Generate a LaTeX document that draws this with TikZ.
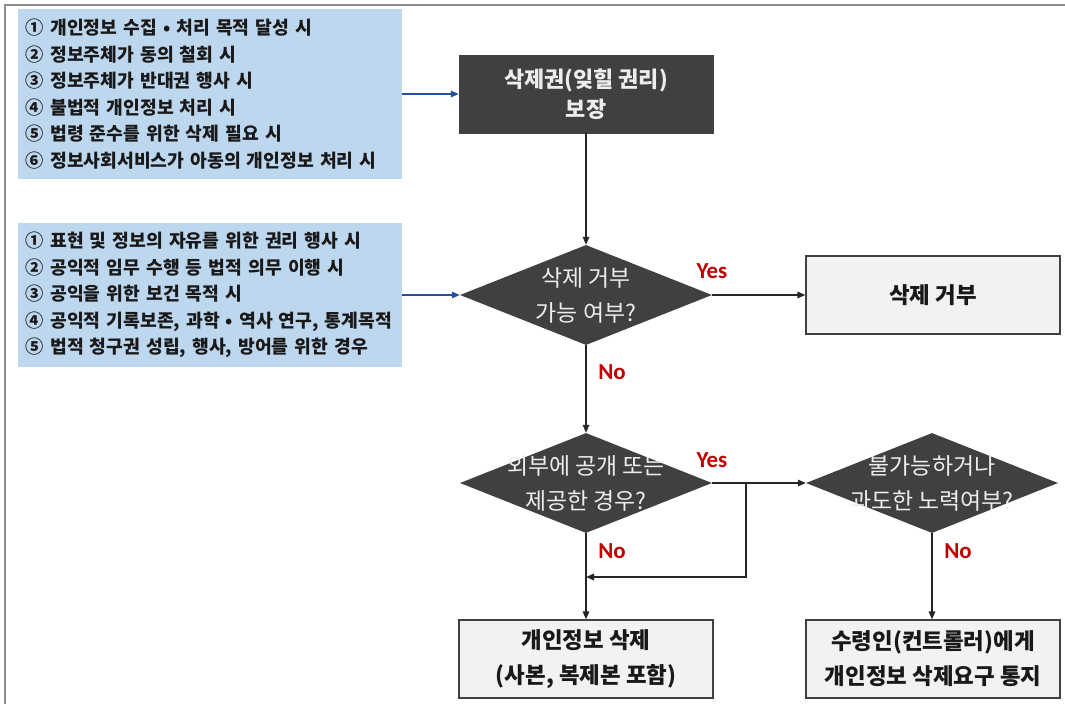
\documentclass[tikz,border=0pt]{standalone}
\usepackage{fontspec}
\setmainfont{Noto Sans CJK KR}
\newfontfamily\ynfont{Carlito}
\usetikzlibrary{shapes.geometric,arrows.meta,positioning}
\definecolor{listblue}{HTML}{BDD7EE}
\definecolor{arrowblue}{HTML}{2350A0}
\definecolor{darkfill}{HTML}{404040}
\definecolor{lightfill}{HTML}{F2F2F2}
\definecolor{ynred}{HTML}{C00000}
\definecolor{framegray}{HTML}{8C8C8C}
\tikzset{
  listbox/.style={rectangle, fill=listblue, minimum width=384bp, text width=368bp, inner sep=0pt, align=left,
     font=\fontsize{18.3}{26.6}\selectfont\bfseries, text=black!90},
  darkbox/.style={rectangle, fill=darkfill, draw=darkfill, minimum width=254bp, minimum height=78bp, align=center,
     font=\fontsize{22}{30}\selectfont\bfseries, text=white!93!black},
  lightbox/.style={rectangle, fill=lightfill, draw=darkfill, line width=1.2bp, minimum width=254bp, minimum height=78bp, align=center,
     font=\fontsize{22.5}{35}\selectfont\bfseries, text=black!90},
  decision/.style={diamond, fill=darkfill, inner sep=0pt, minimum width=252bp, minimum height=100bp},
  dtext/.style={align=center, font=\fontsize{23}{35}\selectfont, text=white!93!black, inner sep=0pt},
  conn/.style={line width=1.5bp, black!85, -{Triangle[length=8bp,width=6.5bp]}},
  bconn/.style={line width=1.5bp, arrowblue, -{Triangle[length=8bp,width=6.5bp]}},
  yn/.style={font=\ynfont\fontsize{23}{24}\selectfont\bfseries, text=ynred, inner sep=0pt}
}
\begin{document}
\begin{tikzpicture}[x=1bp,y=-1bp]
\useasboundingbox (0,0) rectangle (1065,704);
\fill[white] (0,0) rectangle (1065,704);
% frame
\draw[framegray, line width=1.6bp] (5,704) -- (5,5) -- (1065,5);

% list boxes
\node[listbox, minimum height=170bp] (l1) at (210,94) {%
① 개인정보 수집 • 처리 목적 달성 시\\
② 정보주체가 동의 철회 시\\
③ 정보주체가 반대권 행사 시\\
④ 불법적 개인정보 처리 시\\
⑤ 법령 준수를 위한 삭제 필요 시\\
⑥ 정보사회서비스가 아동의 개인정보 처리 시};
\node[listbox, minimum height=143bp] (l2) at (210,295) {%
① 표현 및 정보의 자유를 위한 권리 행사 시\\
② 공익적 임무 수행 등 법적 의무 이행 시\\
③ 공익을 위한 보건 목적 시\\
④ 공익적 기록보존, 과학 • 역사 연구, 통계목적\\
⑤ 법적 청구권 성립, 행사, 방어를 위한 경우};

% main flow
\node[darkbox] (b1) at (586,94) {삭제권(잊힐 권리)\\보장};
\node[decision, label={[dtext]center:{삭제 거부\\가능 여부?}}] (d1) at (586,295) {};
\node[lightbox] (r1) at (933,295) {삭제 거부};
\node[decision, label={[dtext]center:{외부에 공개 또는\\제공한 경우?}}] (d2) at (586,483) {};
\node[decision, label={[dtext]center:{불가능하거나\\과도한 노력여부?}}] (d3) at (932,483) {};
\node[lightbox] (b2) at (586,659) {개인정보 삭제\\(사본, 복제본 포함)};
\node[lightbox] (b3) at (933,659) {수령인(컨트롤러)에게\\개인정보 삭제요구 통지};

\coordinate (br) at (746,483);
\coordinate (bj) at (586,577);

% connectors
\draw[bconn] (l1.east |- b1.west) -- (b1.west);
\draw[bconn] (l2.east |- d1.west) -- (d1.west);
\draw[conn] (b1.south) -- (d1.north);
\draw[conn] (d1.east) -- (r1.west);
\draw[conn] (d1.south) -- (d2.north);
\draw[conn] (d2.east) -- (d3.west);
\draw[conn] (d2.south) -- (b2.north);
\draw[conn] (br) |- (bj);
\draw[conn] (d3.south) -- (d3.south |- b3.north);

% labels
\node[yn] (y1) at (712,271) {Yes};
\node[yn] (n1) at (612,372) {No};
\node[yn] (y2) at (712,460) {Yes};
\node[yn] (n2) at (612,551) {No};
\node[yn] (n3) at (958,551) {No};
\end{tikzpicture}
\end{document}
